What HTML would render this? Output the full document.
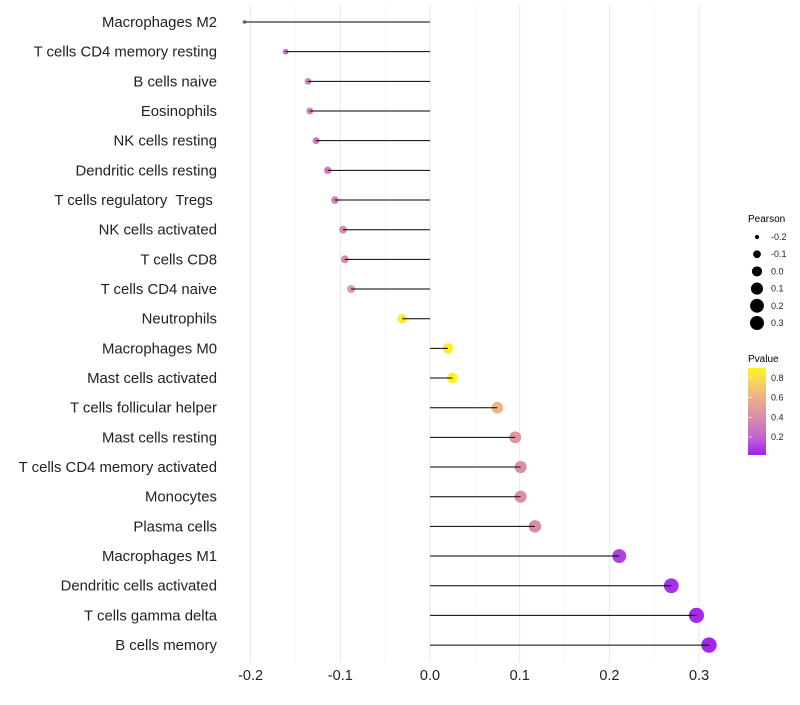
<!DOCTYPE html>
<html><head><meta charset="utf-8"><style>
body{margin:0;background:#fff;font-family:"Liberation Sans",sans-serif}
text{white-space:pre}
</style></head><body>
<svg width="800" height="700" xmlns="http://www.w3.org/2000/svg" font-family="Liberation Sans, sans-serif">
<defs><linearGradient id="pg" x1="0" y1="1" x2="0" y2="0">
<stop offset="0" stop-color="#A020F0"/><stop offset="0.21" stop-color="#C466D0"/><stop offset="0.43" stop-color="#DA8AAA"/><stop offset="0.66" stop-color="#ECB08A"/><stop offset="0.89" stop-color="#F8DC50"/><stop offset="1" stop-color="#FFF51A"/></linearGradient></defs>
<g id="grid"></g>
<g id="dots"></g>
<g id="marks"></g>
<g id="labels"></g>
<g id="xticks"></g>
<g id="legP">
<text x="748" y="222" font-size="10">Pearson</text>
</g>
<g id="legV">
<text x="748" y="362" font-size="10">Pvalue</text>
<rect x="748" y="368" width="18" height="87" fill="url(#pg)"/>
</g>
</svg>
<script>
const categories=["Macrophages M2","T cells CD4 memory resting","B cells naive","Eosinophils","NK cells resting","Dendritic cells resting","T cells regulatory  Tregs ","NK cells activated","T cells CD8","T cells CD4 naive","Neutrophils","Macrophages M0","Mast cells activated","T cells follicular helper","Mast cells resting","T cells CD4 memory activated","Monocytes","Plasma cells","Macrophages M1","Dendritic cells activated","T cells gamma delta","B cells memory"];
const pearson=[-0.207,-0.161,-0.136,-0.134,-0.127,-0.114,-0.106,-0.097,-0.095,-0.088,-0.031,0.020,0.025,0.075,0.095,0.101,0.101,0.117,0.211,0.269,0.297,0.311];
const pvalue=[0.18,0.26,0.32,0.32,0.3,0.32,0.34,0.4,0.4,0.48,0.86,0.88,0.88,0.62,0.46,0.43,0.43,0.4,0.1,0.06,0.04,0.03];
const xTicks=[-0.2,-0.1,0.0,0.1,0.2,0.3];
const xTickLabels=["-0.2","-0.1","0.0","0.1","0.2","0.3"];
const sizeBreaks=[-0.2,-0.1,0.0,0.1,0.2,0.3];
const sizeLabels=["-0.2","-0.1","0.0","0.1","0.2","0.3"];
const colorBreaks=[0.2,0.4,0.6,0.8];
const colorLabels=["0.2","0.4","0.6","0.8"];
const NS="http://www.w3.org/2000/svg";
const X=v=>430+v*897, Y=i=>22+i*29.67, R=v=>Math.sqrt(Math.max(0,3.5+108*(v+0.207)));
const stops=[[0,[160,32,240]],[0.21,[196,102,208]],[0.43,[218,138,170]],[0.66,[236,176,138]],[0.89,[248,220,80]],[1,[255,245,26]]];
function col(p){let t=Math.max(0,Math.min(1,(p-0.017)/(0.9-0.017)));for(let k=1;k<stops.length;k++){if(t<=stops[k][0]){const a=stops[k-1],b=stops[k],f=(t-a[0])/(b[0]-a[0]);return `rgb(${a[1].map((c,j)=>Math.round(c+(b[1][j]-c)*f)).join(',')})`;}}return 'rgb(255,245,26)';}
function mk(tag,at,parent){const e=document.createElementNS(NS,tag);for(const k in at)e.setAttribute(k,at[k]);document.getElementById(parent).appendChild(e);return e;}
for(let v=-0.2;v<=0.3001;v+=0.05){const major=Math.abs(Math.round(v*20))%2===0;const l=mk('line',{x1:X(v),x2:X(v),y1:5,y2:662,stroke:major?'#e8e8e8':'#f3f3f3','stroke-width':major?1:0.7},'grid');

}
xTicks.forEach((v,i)=>{const t=mk('text',{x:X(v),y:680,'font-size':14.5,'text-anchor':'middle',fill:'#222'},'xticks');t.textContent=xTickLabels[i];

});
categories.forEach((c,i)=>{const y=Y(i);
const t=mk('text',{x:217,y:y+5,'font-size':14.9,'text-anchor':'end',fill:'#222'},'labels');t.textContent=c;


const d=mk('circle',{cx:X(pearson[i]),cy:y,r:R(pearson[i]),fill:col(pvalue[i])},'dots');


const s=mk('line',{x1:X(0),x2:X(pearson[i]),y1:y,y2:y,stroke:'#000','stroke-width':1},'marks');

});
sizeBreaks.forEach((v,i)=>{const y=237+i*17.2;
const d=mk('circle',{cx:757,cy:y,r:Math.min(7,R(v)),fill:'#000'},'legP');


const t=mk('text',{x:771,y:y+3,'font-size':9,fill:'#222'},'legP');t.textContent=sizeLabels[i];

});
colorBreaks.forEach((v,i)=>{const y=455-(v-0.017)/(0.883)*87;
const l=mk('line',{x1:748,x2:752,y1:y,y2:y,stroke:'#fff','stroke-width':0.6},'legV');


const t=mk('text',{x:771,y:y+3,'font-size':9,fill:'#222'},'legV');t.textContent=colorLabels[i];

});
</script>
</body></html>
